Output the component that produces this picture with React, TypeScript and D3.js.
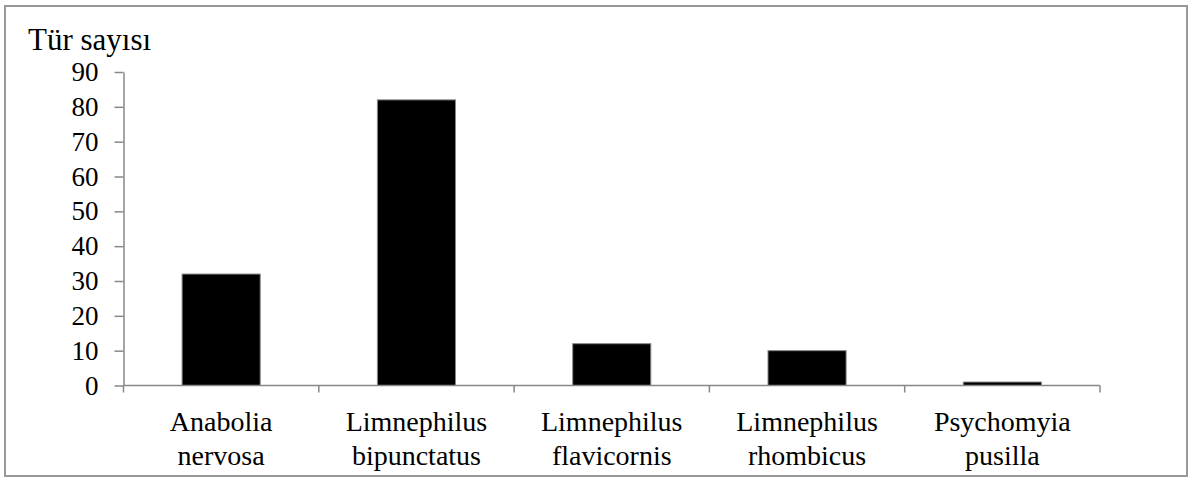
import React, { useEffect, useRef } from 'react'
import * as d3 from 'd3'

const categories = [
  ['Anabolia', 'nervosa'],
  ['Limnephilus', 'bipunctatus'],
  ['Limnephilus', 'flavicornis'],
  ['Limnephilus', 'rhombicus'],
  ['Psychomyia', 'pusilla'],
]
const values = [32, 82, 12, 10, 1]
const yTicks = [0, 10, 20, 30, 40, 50, 60, 70, 80, 90]
const yTitle = 'Tür sayısı'

export default function App() {
  const ref = useRef<SVGSVGElement>(null)

  useEffect(() => {
    const width = 1197
    const height = 480
    const left = 123.5
    const right = 1100
    const top = 72
    const bottom = 385.5
    const font = '"Liberation Serif", "Times New Roman", serif'

    const svg = d3.select(ref.current)
    svg.selectAll('*').remove()

    svg.append('rect')
      .attr('x', 5).attr('y', 6)
      .attr('width', 1182).attr('height', 470)
      .attr('fill', 'white')
      .attr('stroke', '#999')
      .attr('stroke-width', 2)

    const keys = categories.map((c, i) => String(i))
    const x = d3.scaleBand().domain(keys).range([left, right]).padding(0)
    const y = d3.scaleLinear().domain([0, 90]).range([bottom, top])
    const barW = x.bandwidth() * 0.4

    // bars
    svg.append('g').selectAll('rect')
      .data(values)
      .enter().append('rect')
      .attr('x', (d, i) => x(String(i))! + (x.bandwidth() - barW) / 2)
      .attr('y', d => y(d))
      .attr('width', barW)
      .attr('height', d => bottom - y(d))
      .attr('fill', 'black')
      .attr('stroke', '#888')
      .attr('stroke-width', 1)

    // y axis
    const yAxis = svg.append('g')
      .attr('transform', 'translate(' + left + ',0)')
      .call(d3.axisLeft(y).tickValues(yTicks).tickSize(9).tickPadding(16).tickSizeOuter(0))
    yAxis.select('.domain').attr('stroke', '#888').attr('stroke-width', 1.5)
    yAxis.selectAll('.tick line').attr('stroke', '#888').attr('stroke-width', 1.5)
    yAxis.selectAll('.tick text')
      .attr('fill', 'black')
      .style('font-family', font)
      .style('font-size', '27px')

    // x axis line + boundary ticks
    svg.append('line')
      .attr('x1', left).attr('x2', right)
      .attr('y1', bottom).attr('y2', bottom)
      .attr('stroke', '#888').attr('stroke-width', 1.5)
    const bounds = keys.map(k => x(k)!).concat([right])
    svg.append('g').selectAll('line')
      .data(bounds)
      .enter().append('line')
      .attr('x1', d => d).attr('x2', d => d)
      .attr('y1', bottom).attr('y2', bottom + 7)
      .attr('stroke', '#888').attr('stroke-width', 1.5)

    // category labels
    const lbl = svg.append('g').selectAll('text')
      .data(categories)
      .enter().append('text')
      .attr('text-anchor', 'middle')
      .style('font-family', font)
      .style('font-size', '28px')
      .attr('fill', 'black')
    lbl.append('tspan')
      .attr('x', (d, i) => x(String(i))! + x.bandwidth() / 2)
      .attr('y', 431)
      .text(d => d[0])
    lbl.append('tspan')
      .attr('x', (d, i) => x(String(i))! + x.bandwidth() / 2)
      .attr('y', 465)
      .text(d => d[1])

    svg.append('text')
      .attr('x', 28).attr('y', 50)
      .style('font-family', font)
      .style('font-size', '31px')
      .attr('fill', 'black')
      .text(yTitle)

    svg.attr('width', width).attr('height', height)
  }, [])

  return (
    <svg ref={ref} width={1197} height={480}
      style={{ position: 'absolute', left: 0, top: 0, background: 'white' }} />
  )
}
